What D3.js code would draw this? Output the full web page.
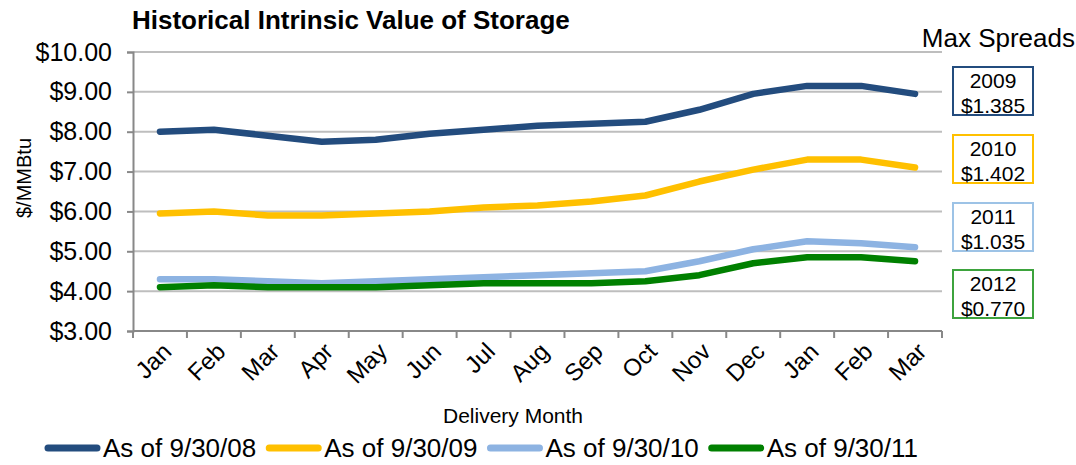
<!DOCTYPE html>
<html>
<head>
<meta charset="utf-8">
<script src="https://cdn.jsdelivr.net/npm/d3@7"></script>
<style>
  body { margin: 0; background: #fff; }
  svg { display: block; font-family: "Liberation Sans", Arial, sans-serif; }
</style>
</head>
<body>
<svg id="chart" width="1076" height="465"></svg>
<script>
// Data
const months = ["Jan", "Feb", "Mar", "Apr", "May", "Jun", "Jul", "Aug", "Sep", "Oct", "Nov", "Dec", "Jan", "Feb", "Mar"];
const asOf08 = [8.00, 8.05, 7.90, 7.75, 7.80, 7.95, 8.05, 8.15, 8.20, 8.25, 8.55, 8.95, 9.15, 9.15, 8.95];
const asOf09 = [5.95, 6.00, 5.90, 5.90, 5.95, 6.00, 6.10, 6.15, 6.25, 6.40, 6.75, 7.05, 7.30, 7.30, 7.10];
const asOf10 = [4.30, 4.30, 4.25, 4.20, 4.25, 4.30, 4.35, 4.40, 4.45, 4.50, 4.75, 5.05, 5.25, 5.20, 5.10];
const asOf11 = [4.10, 4.15, 4.10, 4.10, 4.10, 4.15, 4.20, 4.20, 4.20, 4.25, 4.40, 4.70, 4.85, 4.85, 4.75];
const seriesNames = ["As of 9/30/08", "As of 9/30/09", "As of 9/30/10", "As of 9/30/11"];
const spreadYears = ["2009", "2010", "2011", "2012"];
const spreadValues = ["$1.385", "$1.402", "$1.035", "$0.770"];
const yTicks = [3, 4, 5, 6, 7, 8, 9, 10];

const lineColors = ["#234C7E", "#FFC000", "#8DB3E2", "#008000"];
const boxColors = ["#234C7E", "#FFC000", "#9DC3E6", "#3DA33D"];

const series = [asOf08, asOf09, asOf10, asOf11].map((values, i) => ({
    name: seriesNames[i],
    color: lineColors[i],
    values: values
}));

const svg = d3.select("#chart");
const plotLeft = 133, plotRight = 942, plotTop = 52, plotBottom = 331;

const x = d3.scaleBand().domain(d3.range(months.length)).range([plotLeft, plotRight]).padding(0);
const y = d3.scaleLinear().domain([3, 10]).range([plotBottom, plotTop]);

// Title
svg.append("text")
    .attr("x", 132)
    .attr("y", 29)
    .attr("font-size", 26)
    .attr("font-weight", "bold")
    .text("Historical Intrinsic Value of Storage");

// Gridlines
svg.append("g")
    .selectAll("line")
    .data(yTicks.slice(1))
    .join("line")
    .attr("x1", plotLeft)
    .attr("x2", plotRight)
    .attr("y1", d => y(d))
    .attr("y2", d => y(d))
    .attr("stroke", "#BEBEBE")
    .attr("stroke-width", 2);

// Y axis
const yAxis = svg.append("g")
    .attr("transform", `translate(${plotLeft},0)`)
    .call(d3.axisLeft(y).tickValues(yTicks).tickFormat(d => "$" + d.toFixed(2)).tickSize(6).tickPadding(15));
yAxis.select(".domain").attr("stroke", "#888").attr("stroke-width", 2);
yAxis.selectAll(".tick line").attr("stroke", "#888").attr("stroke-width", 2);
yAxis.selectAll(".tick text")
    .attr("font-size", 25)
    .attr("font-family", "Liberation Sans, Arial, sans-serif")
    .attr("fill", "#000");

// X axis (ticks at band boundaries)
svg.append("line")
    .attr("x1", plotLeft).attr("x2", plotRight)
    .attr("y1", plotBottom).attr("y2", plotBottom)
    .attr("stroke", "#888").attr("stroke-width", 2);
svg.append("g")
    .selectAll("line")
    .data(d3.range(months.length + 1))
    .join("line")
    .attr("x1", d => plotLeft + d * x.bandwidth())
    .attr("x2", d => plotLeft + d * x.bandwidth())
    .attr("y1", plotBottom)
    .attr("y2", plotBottom + 7)
    .attr("stroke", "#888")
    .attr("stroke-width", 2);

svg.append("g")
    .selectAll("text")
    .data(months)
    .join("text")
    .attr("transform", (d, i) => `translate(${x(i) + x.bandwidth() / 2 + 13},${plotBottom + 22}) rotate(-45)`)
    .attr("text-anchor", "end")
    .attr("font-size", 24)
    .text(d => d);

// Axis titles
svg.append("text")
    .attr("x", 513)
    .attr("y", 423)
    .attr("text-anchor", "middle")
    .attr("font-size", 21)
    .text("Delivery Month");

svg.append("text")
    .attr("transform", "translate(31,178) rotate(-90)")
    .attr("text-anchor", "middle")
    .attr("font-size", 20)
    .text("$/MMBtu");

// Lines
const line = d3.line()
    .x((d, i) => x(i) + x.bandwidth() / 2)
    .y(d => y(d));

svg.append("g")
    .selectAll("path")
    .data(series)
    .join("path")
    .attr("d", s => line(s.values))
    .attr("fill", "none")
    .attr("stroke", s => s.color)
    .attr("stroke-width", 6.5)
    .attr("stroke-linecap", "round")
    .attr("stroke-linejoin", "round");

// Max spreads
svg.append("text")
    .attr("x", 1075)
    .attr("y", 47)
    .attr("text-anchor", "end")
    .attr("font-size", 26)
    .text("Max Spreads");

const boxTops = [67, 135, 203, 270];
const boxes = svg.append("g")
    .selectAll("g")
    .data(spreadYears)
    .join("g")
    .attr("transform", (d, i) => `translate(953,${boxTops[i]})`);
boxes.append("rect")
    .attr("width", 80)
    .attr("height", 48)
    .attr("fill", "#fff")
    .attr("stroke", (d, i) => boxColors[i])
    .attr("stroke-width", 2);
boxes.append("text")
    .attr("x", 40)
    .attr("y", 21)
    .attr("text-anchor", "middle")
    .attr("font-size", 21)
    .text(d => d);
boxes.append("text")
    .attr("x", 40)
    .attr("y", 46)
    .attr("text-anchor", "middle")
    .attr("font-size", 21)
    .text((d, i) => spreadValues[i]);

// Legend
const legend = svg.append("g");
let lx = 45;
series.forEach(s => {
    legend.append("line")
        .attr("x1", lx + 3).attr("x2", lx + 52)
        .attr("y1", 448).attr("y2", 448)
        .attr("stroke", s.color)
        .attr("stroke-width", 7)
        .attr("stroke-linecap", "round");
    const t = legend.append("text")
        .attr("x", lx + 58)
        .attr("y", 457)
        .attr("font-size", 26)
        .text(s.name);
    lx += 58 + t.node().getComputedTextLength() + 10;
});
</script>
</body>
</html>
